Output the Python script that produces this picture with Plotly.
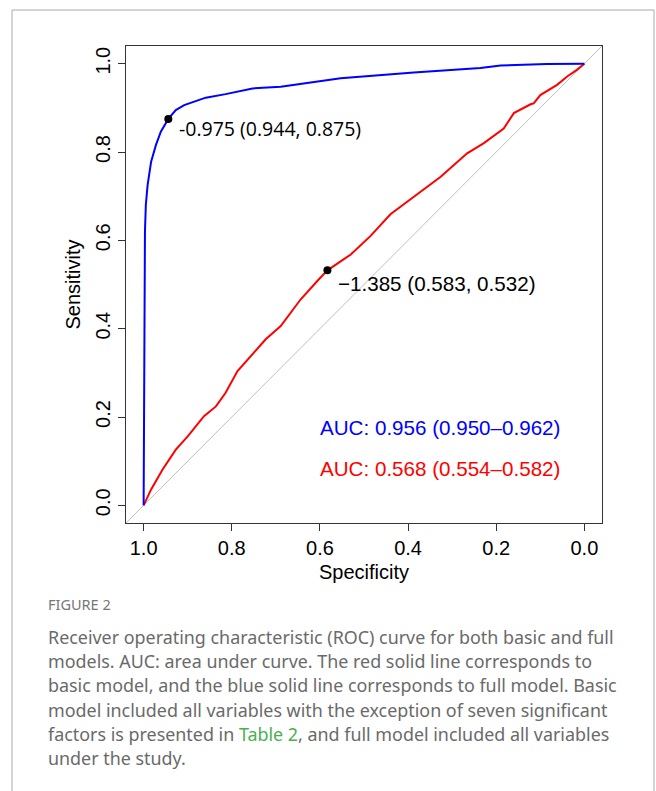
import plotly.graph_objects as go

# ---- data ----
full_spec = [1.0, 0.999, 0.999, 0.997, 0.995, 0.991, 0.983, 0.972, 0.961, 0.944, 0.927, 0.908,
             0.859, 0.814, 0.753, 0.689, 0.553, 0.387, 0.236, 0.190, 0.085, 0.0]
full_sens = [0.0, 0.300, 0.498, 0.619, 0.680, 0.725, 0.778, 0.816, 0.846, 0.875, 0.895, 0.906,
             0.923, 0.931, 0.944, 0.948, 0.967, 0.980, 0.990, 0.996, 0.999, 1.0]

basic_spec = [1.0, 0.983, 0.957, 0.927, 0.900, 0.863, 0.836, 0.814, 0.787, 0.761, 0.723, 0.689,
              0.644, 0.606, 0.583, 0.530, 0.485, 0.440, 0.394, 0.326, 0.266, 0.228, 0.183,
              0.160, 0.122, 0.115, 0.100, 0.062, 0.039, 0.017, 0.0]
basic_sens = [0.0, 0.036, 0.081, 0.126, 0.156, 0.202, 0.224, 0.255, 0.304, 0.334, 0.376, 0.406,
              0.466, 0.508, 0.532, 0.568, 0.610, 0.659, 0.693, 0.744, 0.797, 0.820, 0.853,
              0.888, 0.908, 0.910, 0.929, 0.952, 0.971, 0.986, 1.0]

best_points = [(0.944, 0.875), (0.583, 0.532)]
best_labels = ["-0.975 (0.944, 0.875)", "\u22121.385 (0.583, 0.532)"]
auc_labels = ["AUC: 0.956 (0.950\u20130.962)", "AUC: 0.568 (0.554\u20130.582)"]
tick_vals = [0.0, 0.2, 0.4, 0.6, 0.8, 1.0]
tick_text = ["0.0", "0.2", "0.4", "0.6", "0.8", "1.0"]

caption_title = "FIGURE 2"
caption_lines = [
    "Receiver operating characteristic (ROC) curve for both basic and full",
    "models. AUC: area under curve. The red solid line corresponds to",
    "basic model, and the blue solid line corresponds to full model. Basic",
    "model included all variables with the exception of seven significant",
    "factors is presented in <span style='color:#4caf50'>Table 2</span>, and full model included all variables",
    "under the study.",
]

# ---- layout geometry (pixels) ----
W, H = 656, 791
L, R, T, B = 126, 602, 46, 523


def px(X):
    return (X - L) / (R - L)


def py(Y):
    return (B - Y) / (B - T)


fig = go.Figure()

# diagonal reference
fig.add_trace(go.Scatter(x=[1.04, -0.04], y=[-0.04, 1.04], mode="lines",
                         line=dict(color="#bebebe", width=1), hoverinfo="skip"))
fig.add_trace(go.Scatter(x=basic_spec, y=basic_sens, mode="lines",
                         line=dict(color="#ff0000", width=2)))
fig.add_trace(go.Scatter(x=full_spec, y=full_sens, mode="lines",
                         line=dict(color="#0000ff", width=2)))
fig.add_trace(go.Scatter(x=[p[0] for p in best_points], y=[p[1] for p in best_points],
                         mode="markers", marker=dict(color="black", size=8)))

ann = []
ann.append(dict(text=best_labels[0], x=px(177), y=py(128), xref="paper", yref="paper",
                xanchor="left", yanchor="middle", showarrow=False,
                font=dict(family="Open Sans", size=19.5, color="black")))
ann.append(dict(text=best_labels[1], x=px(336), y=py(283), xref="paper", yref="paper",
                xanchor="left", yanchor="middle", showarrow=False,
                font=dict(family="Liberation Sans", size=20.6, color="black")))
ann.append(dict(text=auc_labels[0], x=px(318), y=py(427), xref="paper", yref="paper",
                xanchor="left", yanchor="middle", showarrow=False,
                font=dict(family="Liberation Sans", size=20.6, color="#0000ff")))
ann.append(dict(text=auc_labels[1], x=px(318), y=py(468), xref="paper", yref="paper",
                xanchor="left", yanchor="middle", showarrow=False,
                font=dict(family="Liberation Sans", size=20.6, color="#ff0000")))

ann.append(dict(text=caption_title, x=px(46), y=py(604), xref="paper", yref="paper",
                xanchor="left", yanchor="middle", showarrow=False,
                font=dict(family="Noto Sans", size=14.5, color="#777777")))
for i, line in enumerate(caption_lines):
    ann.append(dict(text=line, x=px(46), y=py(637 + 24.2 * i), xref="paper", yref="paper",
                    xanchor="left", yanchor="middle", showarrow=False,
                    font=dict(family="Noto Sans", size=17.9, color="#6a6a6a")))

shapes = [dict(type="path", xref="paper", yref="paper",
               path=f"M {px(12)} {py(800)} L {px(12)} {py(10)} L {px(654)} {py(10)} L {px(654)} {py(800)}",
               line=dict(color="#aaaaaa", width=1))]

axis_common = dict(tickvals=tick_vals, ticktext=tick_text, ticks="outside",
                   ticklen=7, tickwidth=1, tickcolor="#333333", showline=True,
                   linecolor="#333333", linewidth=1, mirror=True, showgrid=False,
                   zeroline=False, tickfont=dict(family="Liberation Sans", size=20, color="black"),
                   title_font=dict(family="Liberation Sans", size=20, color="black"))

xaxis = dict(axis_common)
xaxis.update(range=[1.04, -0.04], title=dict(text="Specificity", standoff=6))
yaxis = dict(axis_common)
yaxis.update(range=[-0.04, 1.04], tickangle=-90, title=dict(text="Sensitivity", standoff=6))

fig.update_layout(width=W, height=H, margin=dict(l=L, r=W - R, t=T, b=H - B),
                  paper_bgcolor="white", plot_bgcolor="white", showlegend=False,
                  xaxis=xaxis, yaxis=yaxis, annotations=ann, shapes=shapes)

fig.write_html("out.html", config={"displayModeBar": False},
               post_script="document.body.style.margin='0';document.body.style.overflow='hidden';")
